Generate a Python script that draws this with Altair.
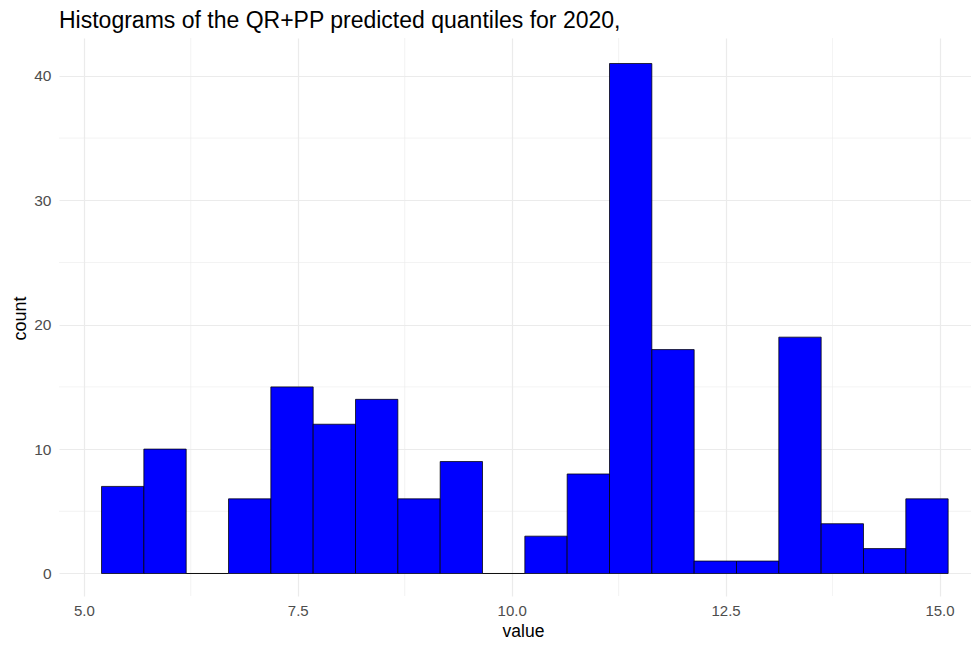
import altair as alt
import pandas as pd

# Histogram data
counts = [7, 10, 0, 6, 15, 12, 14, 6, 9, 0, 3, 8, 41, 18, 1, 1, 19, 4, 2, 6]
bin_start = 5.207
bin_width = 0.4947

x_major = [5.0, 7.5, 10.0, 12.5, 15.0]
x_minor = [6.25, 8.75, 11.25, 13.75]
y_major = [0, 10, 20, 30, 40]
y_minor = [5, 15, 25, 35]

bars = pd.DataFrame({
    "lo": [bin_start + i * bin_width for i in range(len(counts))],
    "hi": [bin_start + (i + 1) * bin_width for i in range(len(counts))],
    "count": counts,
})
xminor_df = pd.DataFrame({"lo": x_minor})
yminor_df = pd.DataFrame({"count": y_minor})

FONT = "Liberation Sans"
GRID = "#EBEBEB"
xscale = alt.Scale(domain=[4.71, 15.368], nice=False, zero=False)
yscale = alt.Scale(domain=[-1.81, 43.05], nice=False, zero=False)

xaxis = alt.Axis(
    values=x_major, format=".1f", title="value", grid=True,
    gridColor=GRID, gridWidth=1.2, domain=False, ticks=False,
    labelFont=FONT, labelFontSize=15, labelColor="#4D4D4D", labelPadding=7,
    titleFont=FONT, titleFontSize=17.5, titleFontWeight="normal", titleColor="#000000",
    titleX=464, titleY=40, titleBaseline="alphabetic", titleAlign="center",
)
yaxis = alt.Axis(
    values=y_major, format="d", title="count", grid=True,
    gridColor=GRID, gridWidth=1.2, domain=False, ticks=False,
    labelFont=FONT, labelFontSize=15.5, labelColor="#4D4D4D", labelPadding=8,
    titleFont=FONT, titleFontSize=18, titleFontWeight="normal", titleColor="#000000",
    titleX=-34, titleY=280, titleBaseline="alphabetic", titleAlign="center", titleAngle=-90,
)

xminor = alt.Chart(xminor_df).mark_rule(color=GRID, strokeWidth=0.6).encode(
    x=alt.X("lo:Q", scale=xscale, axis=xaxis)
)
yminor = alt.Chart(yminor_df).mark_rule(color=GRID, strokeWidth=0.6).encode(
    y=alt.Y("count:Q", scale=yscale, axis=yaxis)
)

hist = alt.Chart(bars).mark_rect(
    fill="#0000FF", stroke="#000000", strokeWidth=0.75
).encode(
    x=alt.X("lo:Q", scale=xscale, axis=xaxis),
    x2="hi:Q",
    y=alt.Y("count:Q", scale=yscale, axis=yaxis),
    y2=alt.datum(0),
)

chart = alt.layer(xminor, yminor, hist).properties(
    width=912,
    height=558,
    autosize=alt.AutoSizeParams(type="none"),
    padding={"left": 51, "top": 30, "right": 0, "bottom": 44},
    title=alt.TitleParams(
        "Histograms of the QR+PP predicted quantiles for 2020,",
        anchor="start", frame="group", font=FONT, fontSize=23,
        fontWeight="normal", color="#000000", offset=5,
    ),
).configure_view(stroke=None)

chart.save("out.html", embed_options={"renderer": "svg", "actions": False})
